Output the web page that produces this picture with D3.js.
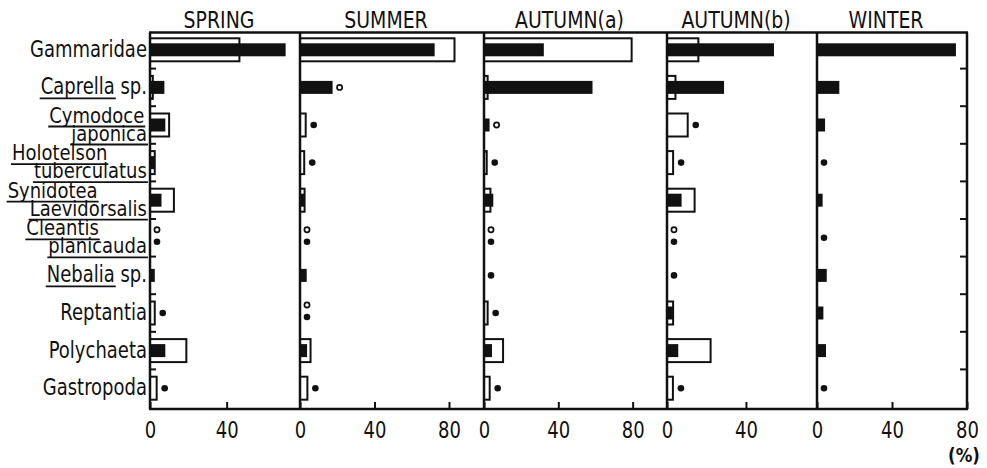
<!DOCTYPE html>
<html>
<head>
<meta charset="utf-8">
<script src="https://cdn.jsdelivr.net/npm/d3@7"></script>
<style>
  html, body { margin: 0; padding: 0; background: #fff; }
  svg { display: block; }
  text {
    font-family: "DejaVu Sans Condensed", "DejaVu Sans", sans-serif;
    font-stretch: condensed;
    fill: #111;
  }
</style>
</head>
<body>
<svg id="chart" width="987" height="468"></svg>
<script>
// ---- data -------------------------------------------------------------
const seasons = ["SPRING", "SUMMER", "AUTUMN(a)", "AUTUMN(b)", "WINTER"];
const axisMax = [78.3, 98.8, 98.5, 76, 80];          // % reached at each panel's right edge
const axisTicks = [[0, 40], [0, 40, 80], [0, 40, 80], [0, 40], [0, 40, 80]];

const taxa = ["Gammaridae", "Caprella sp.", "Cymodoce japonica", "Holotelson tuberculatus",
  "Synidotea laevidorsalis", "Cleantis planicauda", "Nebalia sp.", "Reptantia",
  "Polychaeta", "Gastropoda"];

// label text, split into lines of [text, underlined] runs
const taxonLabels = [
  [[["Gammaridae", false]]],
  [[["Caprella", true], [" sp.", false]]],
  [[["Cymodoce", true]], [["japonica", true]]],
  [[["Holotelson", true]], [["tuberculatus", true]]],
  [[["Synidotea", true]], [["Laevidorsalis", true]]],
  [[["Cleantis", true]], [["planicauda", true]]],
  [[["Nebalia", true], [" sp.", false]]],
  [[["Reptantia", false]]],
  [[["Polychaeta", false]]],
  [[["Gastropoda", false]]]
];

// percentages per taxon; values below 1 are traces (drawn as dots), null = absent
const springOpen  = [47.2, 2,    10.5, 3,   13,  0.5, null, 3,   19.5, 4];
const springSolid = [70.8, 7.5,  8,    2.5, 6,   0.5, 2.5,  0.5, 8,    0.5];
const summerOpen  = [83.5, 0.5,  3.6,  2.8, 3,   0.5, null, 0.5, 6.2,  4.5];
const summerSolid = [72.3, 17.5, 0.5,  0.5, 2.5, 0.5, 3.6,  0.5, 3.8,  0.5];
const autumnAOpen  = [80,   2.5,  0.5, 2,   4,   0.5, null, 2.5, 10.8, 3.6];
const autumnASolid = [32.2, 58.4, 3,   0.5, 5,   0.5, 0.5,  0.5, 4.3,  0.5];
const autumnBOpen  = [16.4, 4.8,  11,  3.6, 14.5, 0.5, null, 3.6, 22.6, 3.5];
const autumnBSolid = [54.2, 28.9, 0.5, 0.5, 7.4,  0.5, 0.5,  3,   5.7,  0.5];
const winterOpen  = [null, null, null, null, null, null, null, null, null, null];
const winterSolid = [74.1, 11.9, 4.3,  0.5,  3,    0.5,  5.2,  3.4,  4.8,  0.5];

const openSeries  = [springOpen, summerOpen, autumnAOpen, autumnBOpen, winterOpen];
const solidSeries = [springSolid, summerSolid, autumnASolid, autumnBSolid, winterSolid];

// ---- layout -----------------------------------------------------------
const svg = d3.select("#chart");
const plotTop = 32.5, plotBottom = 409;
const panelEdges = [150, 300, 484, 667, 817, 967];
const ink = "#111";
const openH = 23, solidH = 13;
const textStretch = 1.15;

const y = d3.scaleBand()
  .domain(d3.range(taxa.length))
  .range([plotTop - 1.5, plotBottom - 2]);
const cy = i => y(i) + y.bandwidth() / 2;

const panels = seasons.map((name, i) => ({
  name,
  ticks: axisTicks[i],
  open: openSeries[i],
  solid: solidSeries[i],
  x: d3.scaleLinear().domain([0, axisMax[i]]).range([panelEdges[i], panelEdges[i + 1]])
}));

const isTrace = v => v != null && v < 1;
const isBar = v => v != null && v >= 1;

// ---- panels -----------------------------------------------------------
panels.forEach(p => {
  const g = svg.append("g");
  const x0 = p.x(0);

  // open bars (outlined)
  g.selectAll("rect.open")
    .data(p.open.map((v, i) => ({ v, i })).filter(d => isBar(d.v)))
    .join("rect")
    .attr("class", "open")
    .attr("x", x0)
    .attr("y", d => cy(d.i) - openH / 2)
    .attr("width", d => Math.max(0.5, p.x(d.v) - x0 - 1))
    .attr("height", openH)
    .attr("fill", "#fff")
    .attr("stroke", ink)
    .attr("stroke-width", 2);

  // solid bars
  g.selectAll("rect.solid")
    .data(p.solid.map((v, i) => ({ v, i })).filter(d => isBar(d.v)))
    .join("rect")
    .attr("class", "solid")
    .attr("x", x0)
    .attr("y", d => cy(d.i) - solidH / 2)
    .attr("width", d => p.x(d.v) - x0)
    .attr("height", solidH)
    .attr("fill", ink);

  // trace dots: open circle for the open series, filled for the solid one
  const dots = [];
  taxa.forEach((t, i) => {
    const o = p.open[i], s = p.solid[i];
    const barMax = d3.max([o, s].filter(isBar)) || 0;
    const dx = p.x(barMax) + 7;
    const both = isTrace(o) && isTrace(s);
    if (isTrace(o)) dots.push({ kind: "open", x: dx, y: cy(i) + (both ? -8 : 0) });
    if (isTrace(s)) dots.push({ kind: "solid", x: dx, y: cy(i) + (both ? 4 : 0) });
  });
  g.selectAll("circle")
    .data(dots)
    .join("circle")
    .attr("cx", d => d.x)
    .attr("cy", d => d.y)
    .attr("r", d => d.kind === "open" ? 2.6 : 3.3)
    .attr("fill", d => d.kind === "open" ? "#fff" : ink)
    .attr("stroke", d => d.kind === "open" ? ink : "none")
    .attr("stroke-width", 1.7);

  // bottom axis: small upward ticks and value labels
  const axis = d3.axisBottom(p.x)
    .tickValues(p.ticks)
    .tickFormat(d3.format("d"))
    .tickSizeInner(-7)
    .tickSizeOuter(0)
    .tickPadding(0);
  const ag = svg.append("g")
    .attr("transform", `translate(0,${plotBottom})`)
    .call(axis);
  ag.select(".domain").remove();
  ag.selectAll(".tick line").attr("stroke", ink).attr("stroke-width", 2);
  ag.selectAll(".tick text")
    .attr("y", null).attr("dy", null)
    .attr("transform", `translate(0,29) scale(1,${textStretch})`)
    .attr("fill", ink)
    .style("font-size", "20px");
  ag.attr("font-family", null).attr("font-size", null);

  // season title
  svg.append("text")
    .attr("text-anchor", "middle")
    .attr("transform", `translate(${(p.x.range()[0] + p.x.range()[1]) / 2 - 6},27.5) scale(1,1.1)`)
    .style("font-size", "21px")
    .text(p.name);
});

// ---- frame ------------------------------------------------------------
const frame = svg.append("g").attr("stroke", ink).attr("stroke-width", 2.5).attr("fill", "none");
frame.append("line").attr("x1", panelEdges[0] - 1).attr("x2", panelEdges[5] + 1)
  .attr("y1", plotTop).attr("y2", plotTop);
frame.append("line").attr("x1", panelEdges[0] - 1).attr("x2", panelEdges[5] + 1)
  .attr("y1", plotBottom).attr("y2", plotBottom);
panelEdges.forEach(xe => {
  frame.append("line").attr("x1", xe).attr("x2", xe).attr("y1", plotTop).attr("y2", plotBottom);
});
// category boundary ticks on the outer left and right edges
d3.range(1, taxa.length).forEach(i => {
  frame.append("line").attr("x1", panelEdges[0]).attr("x2", panelEdges[0] + 6)
    .attr("y1", y(i)).attr("y2", y(i)).attr("stroke-width", 2);
  frame.append("line").attr("x1", panelEdges[5] - 7).attr("x2", panelEdges[5])
    .attr("y1", y(i)).attr("y2", y(i)).attr("stroke-width", 2);
});

// unit label under the last tick
svg.append("text")
  .attr("text-anchor", "middle")
  .attr("transform", `translate(${panelEdges[5] - 3},462) scale(1,1.05)`)
  .style("font-size", "18.5px")
  .style("font-weight", "bold")
  .text("(%)");

// ---- taxon labels -------------------------------------------------------
const labelRight = panelEdges[0] - 3;
const labels = svg.append("g");

function drawLine(runs, xLeft, baseline, anchorRight, stretch) {
  const t = labels.append("text").style("font-size", "20px");
  const spans = runs.map(r => t.append("tspan").text(r[0]));
  const width = t.node().getComputedTextLength();
  const left = anchorRight ? labelRight - width : xLeft;
  t.attr("transform", `translate(${left},${baseline}) scale(1,${stretch})`);
  let cursor = left;
  runs.forEach((r, k) => {
    const w = spans[k].node().getComputedTextLength();
    if (r[1]) {
      labels.append("line")
        .attr("x1", cursor - 1).attr("x2", cursor + w + 1)
        .attr("y1", baseline + 4).attr("y2", baseline + 4)
        .attr("stroke", ink).attr("stroke-width", 1.8);
    }
    cursor += w;
  });
  return left;
}

taxonLabels.forEach((lines, i) => {
  const c = cy(i);
  if (lines.length === 1) {
    drawLine(lines[0], 0, c + 7, true, textStretch);
  } else {
    // stacked two-line names sit tight inside one category band
    const secondLeft = drawLine(lines[1], 0, c + 15.5, true, 1.08);
    drawLine(lines[0], secondLeft - 22, c - 2.5, false, 1.08);
  }
});
</script>
</body>
</html>
